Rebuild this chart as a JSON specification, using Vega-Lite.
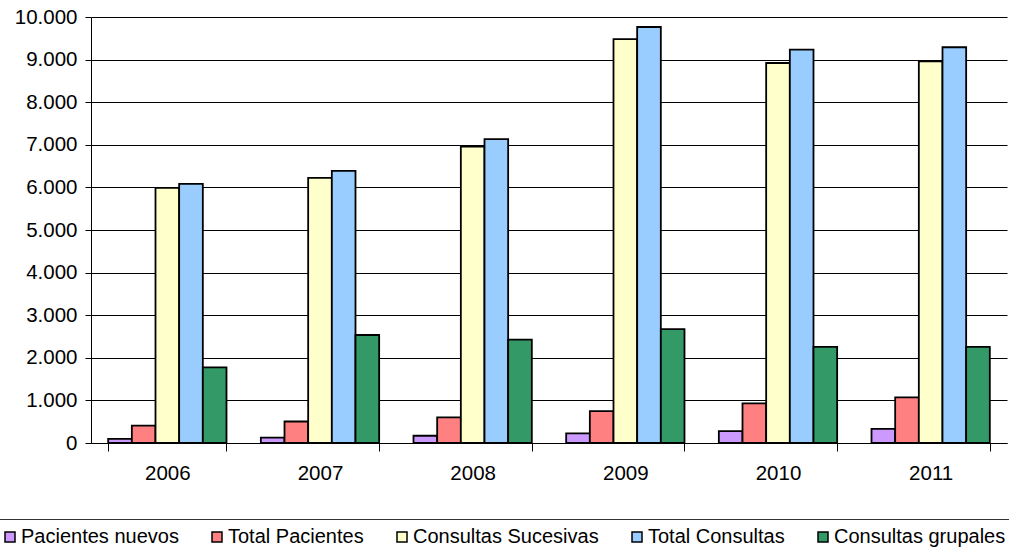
{
  "$schema": "https://vega.github.io/schema/vega-lite/v6.json",
  "width": 916,
  "height": 426,
  "autosize": "none",
  "padding": {"left": 91, "top": 17, "right": 2, "bottom": 116},
  "config": {
    "locale": {"number": {"decimal": ",", "thousands": ".", "grouping": [3], "currency": ["", " €"]}},
    "view": {"stroke": null},
    "font": "Liberation Sans"
  },
  "data": {
    "values": [
      {"year": "2006", "serie": "Pacientes nuevos", "value": 95},
      {"year": "2006", "serie": "Total Pacientes", "value": 410},
      {"year": "2006", "serie": "Consultas Sucesivas", "value": 5990},
      {"year": "2006", "serie": "Total Consultas", "value": 6085},
      {"year": "2006", "serie": "Consultas grupales", "value": 1775},
      {"year": "2007", "serie": "Pacientes nuevos", "value": 125},
      {"year": "2007", "serie": "Total Pacientes", "value": 505},
      {"year": "2007", "serie": "Consultas Sucesivas", "value": 6225},
      {"year": "2007", "serie": "Total Consultas", "value": 6390},
      {"year": "2007", "serie": "Consultas grupales", "value": 2535},
      {"year": "2008", "serie": "Pacientes nuevos", "value": 170},
      {"year": "2008", "serie": "Total Pacientes", "value": 600},
      {"year": "2008", "serie": "Consultas Sucesivas", "value": 6955},
      {"year": "2008", "serie": "Total Consultas", "value": 7135},
      {"year": "2008", "serie": "Consultas grupales", "value": 2425},
      {"year": "2009", "serie": "Pacientes nuevos", "value": 225},
      {"year": "2009", "serie": "Total Pacientes", "value": 750},
      {"year": "2009", "serie": "Consultas Sucesivas", "value": 9480},
      {"year": "2009", "serie": "Total Consultas", "value": 9765},
      {"year": "2009", "serie": "Consultas grupales", "value": 2675},
      {"year": "2010", "serie": "Pacientes nuevos", "value": 280},
      {"year": "2010", "serie": "Total Pacientes", "value": 930},
      {"year": "2010", "serie": "Consultas Sucesivas", "value": 8920},
      {"year": "2010", "serie": "Total Consultas", "value": 9235},
      {"year": "2010", "serie": "Consultas grupales", "value": 2255},
      {"year": "2011", "serie": "Pacientes nuevos", "value": 330},
      {"year": "2011", "serie": "Total Pacientes", "value": 1070},
      {"year": "2011", "serie": "Consultas Sucesivas", "value": 8960},
      {"year": "2011", "serie": "Total Consultas", "value": 9290},
      {"year": "2011", "serie": "Consultas grupales", "value": 2255}
    ]
  },
  "mark": {"type": "bar", "stroke": "black", "strokeWidth": 1.8},
  "encoding": {
    "x": {
      "field": "year",
      "type": "nominal",
      "scale": {"paddingInner": 0.225, "paddingOuter": 0.1125},
      "axis": {
        "title": null,
        "labelAngle": 0,
        "tickBand": "extent",
        "domainColor": "black",
        "tickColor": "black",
        "tickSize": 8,
        "labelFontSize": 20.5,
        "labelColor": "black",
        "labelPadding": 12
      }
    },
    "xOffset": {
      "field": "serie",
      "type": "nominal",
      "sort": ["Pacientes nuevos", "Total Pacientes", "Consultas Sucesivas", "Total Consultas", "Consultas grupales"],
      "scale": {"paddingInner": 0, "paddingOuter": 0}
    },
    "y": {
      "field": "value",
      "type": "quantitative",
      "scale": {"domain": [0, 10000], "nice": false},
      "axis": {
        "title": null,
        "values": [0, 1000, 2000, 3000, 4000, 5000, 6000, 7000, 8000, 9000, 10000],
        "format": ",d",
        "grid": true,
        "gridColor": "#000",
        "gridOpacity": 1,
        "domainColor": "black",
        "tickColor": "black",
        "tickSize": 6,
        "labelPadding": 8,
        "labelFontSize": 20.5,
        "labelColor": "black"
      }
    },
    "color": {
      "field": "serie",
      "type": "nominal",
      "sort": ["Pacientes nuevos", "Total Pacientes", "Consultas Sucesivas", "Total Consultas", "Consultas grupales"],
      "scale": {
        "domain": ["Pacientes nuevos", "Total Pacientes", "Consultas Sucesivas", "Total Consultas", "Consultas grupales"],
        "range": ["#CC99FF", "#FF8080", "#FFFFCC", "#99CCFF", "#339966"]
      },
      "legend": {
        "orient": "none",
        "direction": "horizontal",
        "legendX": -99,
        "legendY": 502,
        "padding": 8,
        "strokeColor": "#333",
        "title": " ",
        "titleOrient": "bottom",
        "titleFontSize": 20,
        "symbolType": "square",
        "symbolSize": 100,
        "symbolStrokeColor": "black",
        "symbolStrokeWidth": 1.5,
        "symbolOpacity": 1,
        "labelFontSize": 20,
        "labelLimit": 400,
        "labelColor": "black",
        "labelOffset": 1,
        "columnPadding": 28
      }
    }
  }
}
